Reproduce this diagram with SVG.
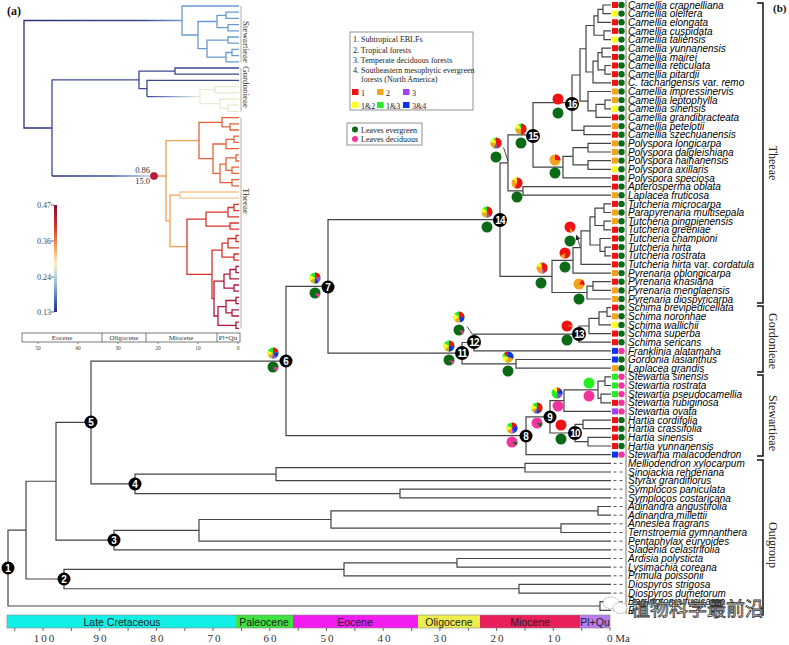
<svg xmlns="http://www.w3.org/2000/svg" xmlns:xlink="http://www.w3.org/1999/xlink" width="789" height="645" viewBox="0 0 789 645">
<defs>
<style>
.br{fill:none;stroke:#444;stroke-width:1.2}
.sp{font-family:"Liberation Sans",Arial,sans-serif;font-size:10px;font-style:italic;fill:#000}
.up{font-style:normal}
.fr{fill:#f01212}.fo{fill:#f7a21b}.fp{fill:#a040f0}.fy{fill:#ffff20}.fg{fill:#22ee22}.fb{fill:#1133ee}.fe{fill:#0b6a16}.fd{fill:#f0369e}
.kr{stroke:#f01212}.ko{stroke:#f7a21b}.kp{stroke:#a040f0}.ky{stroke:#ffff20}.kg{stroke:#22ee22}.kb{stroke:#1133ee}.kd{stroke:#f0369e}.ke{stroke:#0b6a16}
.nl circle{fill:#000}
.nl text{font-family:"Liberation Sans",Arial,sans-serif;font-size:10px;font-weight:bold;fill:#fff;text-anchor:middle}
.lg{font-family:"Liberation Serif","Times New Roman",serif;font-size:8px;fill:#222}
.cl{font-family:"Liberation Serif","Times New Roman",serif;font-size:12px;fill:#222;text-anchor:middle}
.ax{font-family:"Liberation Serif","Times New Roman",serif;font-size:11px;fill:#333;text-anchor:middle;letter-spacing:2px}
.ep{font-family:"Liberation Sans",Arial,sans-serif;font-size:10.5px;fill:#222;text-anchor:middle}
.sa{font-family:"Liberation Serif","Times New Roman",serif;font-size:7px;fill:#333;text-anchor:middle}
.cb{font-family:"Liberation Serif","Times New Roman",serif;font-size:8px;fill:#444;text-anchor:end}
.bk{fill:none;stroke:#111;stroke-width:1.5}
</style>
<path id="rg" d="M2.75 0A2.75 2.75 0 1 1 -2.75 0A2.75 2.75 0 1 1 2.75 0" fill="none" stroke-width="5.5"/>
<marker id="ah" markerWidth="6" markerHeight="6" refX="5" refY="3" orient="auto" markerUnits="userSpaceOnUse"><path d="M0 0.5L5 3L0 5.5z" fill="#222"/></marker>
<linearGradient id="cbar" x1="0" y1="0" x2="0" y2="1">
<stop offset="0" stop-color="#8a0c30"/><stop offset="0.2" stop-color="#cf3a2e"/><stop offset="0.38" stop-color="#f39a55"/><stop offset="0.55" stop-color="#f8f0c8"/><stop offset="0.72" stop-color="#9fc3de"/><stop offset="0.88" stop-color="#4a6fb0"/><stop offset="1" stop-color="#2a2a78"/>
</linearGradient>
<linearGradient id="stem" gradientUnits="userSpaceOnUse" x1="52" y1="0" x2="152" y2="0">
<stop offset="0" stop-color="#2b2f7c"/><stop offset="0.6" stop-color="#3d56a0"/><stop offset="1" stop-color="#bcd4e8"/>
</linearGradient>
<linearGradient id="gstem" gradientUnits="userSpaceOnUse" x1="147" y1="0" x2="200" y2="0">
<stop offset="0" stop-color="#3c4a8e"/><stop offset="0.5" stop-color="#8aa0c8"/><stop offset="1" stop-color="#e8eed2"/>
</linearGradient>
<linearGradient id="sstem" gradientUnits="userSpaceOnUse" x1="24" y1="0" x2="182" y2="0">
<stop offset="0" stop-color="#2b2f7c"/><stop offset="0.75" stop-color="#3a4a90"/><stop offset="1" stop-color="#6f9fd0"/>
</linearGradient>
</defs>
<rect width="789" height="645" fill="#fff"/>

<!-- ============ Panel (a) ============ -->
<g id="panel-a">
<text x="7" y="15" font-family="Liberation Serif,serif" font-size="12" font-weight="bold" fill="#111">(a)</text>
<g id="a-branches" fill="none" stroke-width="1.3">
<path stroke="url(#sstem)" d="M182 20.5H24V128H52"/>
<path stroke="#6a9bd0" d="M239 6H182V35H198M217 21.5H198V48.6H207M226 15.3H217V27.7H228M239 12.2H226V18.4H239M239 24.6H228V30.8H239M228 40.1H207V57.15H226M239 37H228V43.2H239M232 52.5H226V61.8H239M239 49.4H232V55.6H239"/>
<path stroke="#3c4a8e" d="M139 79.8H52V176M175 71.1H139V88.55H147M239 68H175V74.2H239M239 80.4H147V96.7"/>
<path stroke="url(#gstem)" d="M147 96.7H200"/>
<path stroke="#e6ecd0" d="M215 89.7H200V103.65H220M239 86.6H215V92.8H239M228 108.3H220V99H239M239 105.2H228V111.4H239"/>
<path stroke="url(#stem)" d="M52 176H152"/>
<path stroke="#f0a050" d="M154 176H166M199 140.6H166V220.9H170M180 195.1H170V246.7H187"/>
<path stroke="#f7c590" d="M239 192H180V198.2H239"/>
<path stroke="#e8603a" d="M222 122.4H199V158.7H213M239 117.6H222V126.9H230M239 123.8H230V130H239M226 144H213V173.4H220M234 139.3H226V148.6H239M239 136.2H234V142.4H239M226 164.1H220V182.7H232M236 157.9H226V170.3H232M239 154.8H236V161H239M239 167.2H232V173.4H239M239 179.6H232V185.8H239"/>
<path stroke="#d83228" d="M206 219.1H187V274.3H212M228 212.2H206V226.1H230M234 207.5H228V216.8H239M239 204.4H234V210.6H239M239 223H230V229.2H239M222 250.1H212V298.5H214M228 243.2H222V257.1H234M236 238.5H228V247.8H239M239 235.4H236V241.6H239M239 254H234V260.2H239"/>
<path stroke="#b0163a" d="M224 281.1H214V316H218M230 274.1H224V288.1H234M236 269.5H230V278.8H239M239 266.4H236V272.6H239M239 285H234V291.2H239M226 306.7H218V325.3H236M236 300.5H226V312.9H232M239 297.4H236V303.6H239M239 309.8H232V316H239M239 322.2H236V328.4H239"/>
</g>
<g id="a-clades" stroke="#999" stroke-width="0.8">
<path d="M241 6V62M241 68V111.5M241 117.5V328.5"/>
</g>
<g id="a-clade-labels" font-family="Liberation Serif,serif" font-size="9" fill="#333" text-anchor="middle">
<text transform="translate(243,42) rotate(90)">Stewartieae</text>
<text transform="translate(243,87) rotate(90)">Gordonieae</text>
<text transform="translate(243,201) rotate(90)">Theeae</text>
</g>
<g id="a-node">
<circle cx="154" cy="176" r="3.6" fill="#c8173a" stroke="#7a0a20" stroke-width="0.6"/>
<text x="150" y="173" font-family="Liberation Serif,serif" font-size="8.5" fill="#333" text-anchor="end">0.86</text>
<text x="150" y="184" font-family="Liberation Serif,serif" font-size="8.5" fill="#333" text-anchor="end">15.0</text>
</g>
<g id="colorbar">
<rect x="54" y="205" width="3" height="107" fill="url(#cbar)"/>
<path d="M51 205H54M51 241H54M51 277H54M51 312H54" stroke="#444" stroke-width="0.8"/>
<text class="cb" x="51" y="208">0.47</text>
<text class="cb" x="51" y="244">0.36</text>
<text class="cb" x="51" y="280">0.24</text>
<text class="cb" x="51" y="315">0.13</text>
</g>
<g id="a-axis">
<rect x="22" y="333" width="218" height="9" fill="#fff" stroke="#444" stroke-width="0.7"/>
<path d="M102 333V342M146 333V342M217 333V342" stroke="#444" stroke-width="0.7"/>
<text class="sa" x="62" y="340">Eocene</text>
<text class="sa" x="124" y="340">Oligocene</text>
<text class="sa" x="181" y="340">Miocene</text>
<text class="sa" x="228" y="340">Pl+Qu</text>
<path d="M38 342V344M78 342V344M118 342V344M158 342V344M198 342V344M238 342V344" stroke="#444" stroke-width="0.6"/>
<g font-family="Liberation Serif,serif" font-size="5.5" fill="#444" text-anchor="middle">
<text x="38" y="350">50</text><text x="78" y="350">40</text><text x="118" y="350">30</text><text x="158" y="350">20</text><text x="198" y="350">10</text><text x="238" y="350">0</text>
</g>
</g>
</g>

<!-- ============ Legends ============ -->
<g id="legend-biome">
<rect x="350" y="32" width="123" height="78" fill="#fff" stroke="#777" stroke-width="0.8"/>
<text class="lg" x="353" y="42">1. Subtropical EBLFs</text>
<text class="lg" x="353" y="53">2. Tropical forests</text>
<text class="lg" x="353" y="63">3. Temperate deciduous forests</text>
<text class="lg" x="353" y="73">4. Southeastern mesophytic evergreen</text>
<text class="lg" x="361" y="82">forests (North America)</text>
<rect class="fr" x="352" y="89" width="6.5" height="6"/><text class="lg" x="361" y="95.5">1</text>
<rect class="fo" x="377" y="89" width="6.5" height="6"/><text class="lg" x="386" y="95.5">2</text>
<rect class="fp" x="403" y="89" width="6.5" height="6"/><text class="lg" x="412" y="95.5">3</text>
<rect class="fy" x="352" y="102" width="6.5" height="6"/><text class="lg" x="361" y="108.5">1&amp;2</text>
<rect class="fg" x="377" y="102" width="6.5" height="6"/><text class="lg" x="386" y="108.5">1&amp;3</text>
<rect class="fb" x="403" y="102" width="6.5" height="6"/><text class="lg" x="412" y="108.5">3&amp;4</text>
</g>
<g id="legend-leaf">
<rect x="347" y="123" width="75" height="22" fill="#fff" stroke="#777" stroke-width="0.8"/>
<circle class="fe" cx="355" cy="129.5" r="3"/><text class="lg" x="361" y="132.5">Leaves evergreen</text>
<circle class="fd" cx="355" cy="139" r="3"/><text class="lg" x="361" y="142">Leaves deciduous</text>
</g>

<!-- ============ Panel (b) connectors ============ -->
<g id="connectors">
<path class="br" d="M611 5H603V13.6H611M603 9.3H598V22.3H611M611 30.9H604V39.6H611M598 15.8H594V35.25H604M611 48.2H602V56.9H611M611 65.5H605V74.2H611M602 52.55H598V69.85H605M598 61.2H593V82.8H611M594 25.5H586V72H593M611 100.1H605V108.8H611M605 104.45H596V117.4H611M611 91.5H588V110.9H596M586 48.75H580V101.2H588M611 126.1H584V134.7H611M580 75H572V130.4H584"/>
<path class="br" d="M611 143.4H588V152H611M611 160.6H588V169.3H611M588 147.7H573V164.95H588M573 156.3H563V177.9H611M572 102.7H533V167.1H563M611 186.6H523V195.2H611M533 134.9H508V190.9H523"/>
<path class="br" d="M611 203.9H604V212.5H611M611 221.2H604V229.8H611M604 208.2H595V225.5H604M611 247.1H605V255.8H611M611 238.5H600V251.45H605M595 216.85H590V245H600M590 230.9H581V264.4H611M581 247.65H573V273.1H611M611 281.7H593V290.4H611M593 286.05H587V299H611M573 260.4H552V292.5H587M508 162.9H500V276.45H552"/>
<path class="br" d="M611 307.6H607V316.3H611M607 311.95H599V324.9H611M599 318.4H589V333.6H611M589 326H579V342.2H611M579 334.1H474V350.9H611M611 359.5H516V368.2H611M474 342.5H462V363.85H516M500 219.7H328V353.2H462"/>
<path class="br" d="M611 376.8H605V385.5H611M611 394.1H601V402.8H611M605 381.15H598V398.45H601M598 389.8H564V411.4H611M611 420.1H583V428.7H611M611 437.3H588V446H611M583 424.4H575V441.65H588M564 400.6H550V433H575M550 416.8H526V454.6H611M328 286.45H286V435.7H526"/>
<path class="br" d="M611 463.3H525V472H611M525 467.65H276V480.6H611M611 489.2H400V497.9H611M276 474.1H135V493.55H400M286 361.1H91V483.8H135M611 506.5H598V515.2H611M611 523.8H561V532.5H611M598 510.85H331V528.15H561M331 519.5H199V541.1H611M199 530.3H114V549.8H611M91 422.45H56V540.05H114M611 558.5H457V567.1H611M457 562.8H344V575.8H611M611 584.4H519V593.1H611M344 569.3H64V588.75H519M56 481.25H26V579H64M611 601.7H600V610.4H611M26 530.1H8V606H600"/>
<path fill="none" stroke="#555" stroke-width="1" stroke-dasharray="3 3" d="M613.5 463.3H623M613.5 472H623M613.5 480.6H623M613.5 489.2H623M613.5 497.9H623M613.5 506.5H623M613.5 515.2H623M613.5 523.8H623M613.5 532.5H623M613.5 541.1H623M613.5 549.8H623M613.5 558.5H623M613.5 567.1H623M613.5 575.8H623M613.5 584.4H623M613.5 593.1H623M613.5 601.7H623M613.5 610.4H623"/>
<path fill="none" stroke="#222" stroke-width="0.8" marker-end="url(#ah)" d="M473 335L467 326.5M508 161L503.5 147.5M580 246.5L576.5 235"/>
<path d="M626 0V614" stroke="#555" stroke-width="0.8"/>
</g>

<!-- ============ Ancestral state pies ============ -->
<g id="pies">
<g id="pie-n6" transform="translate(273,353) rotate(-90)"><circle r="5.5" class="fg"/><use href="#rg" class="kr" stroke-dasharray="3.8 20"/><use href="#rg" class="kb" stroke-dasharray="3.11 20" stroke-dashoffset="-3.8"/><use href="#rg" class="kp" stroke-dasharray="2.07 20" stroke-dashoffset="-6.91"/><use href="#rg" class="ko" stroke-dasharray="2.42 20" stroke-dashoffset="-8.99"/><use href="#rg" class="ky" stroke-dasharray="2.42 20" stroke-dashoffset="-11.4"/></g>
<g id="leaf-n6" transform="translate(273,367) rotate(-90)"><circle r="5.5" class="fe"/><use href="#rg" class="kd" stroke-dasharray="2.59 20" stroke-dashoffset="-4.32"/></g>
<g id="pie-n7" transform="translate(315,278) rotate(-90)"><circle r="5.5" class="fg"/><use href="#rg" class="kr" stroke-dasharray="3.8 20"/><use href="#rg" class="kp" stroke-dasharray="2.59 20" stroke-dashoffset="-3.8"/><use href="#rg" class="kb" stroke-dasharray="2.25 20" stroke-dashoffset="-6.39"/><use href="#rg" class="ko" stroke-dasharray="2.59 20" stroke-dashoffset="-8.64"/><use href="#rg" class="ky" stroke-dasharray="2.94 20" stroke-dashoffset="-11.23"/></g>
<g id="leaf-n7" transform="translate(315,293) rotate(-90)"><circle r="5.5" class="fe"/><use href="#rg" class="kd" stroke-dasharray="2.07 20" stroke-dashoffset="-4.84"/></g>
<g id="pie-n11" transform="translate(449,346) rotate(-90)"><circle r="5.5" class="fg"/><use href="#rg" class="kr" stroke-dasharray="4.32 20"/><use href="#rg" class="kb" stroke-dasharray="4.32 20" stroke-dashoffset="-4.32"/><use href="#rg" class="ko" stroke-dasharray="2.07 20" stroke-dashoffset="-8.64"/><use href="#rg" class="ky" stroke-dasharray="3.46 20" stroke-dashoffset="-10.71"/></g>
<g id="leaf-n11" transform="translate(449,360) rotate(-90)"><circle r="5.5" class="fe"/><use href="#rg" class="kd" stroke-dasharray="1.73 20" stroke-dashoffset="-4.84"/></g>
<g id="pie-n12" transform="translate(459,317) rotate(-90)"><circle r="5.5" class="fg"/><use href="#rg" class="kr" stroke-dasharray="4.32 20"/><use href="#rg" class="kb" stroke-dasharray="3.46 20" stroke-dashoffset="-4.32"/><use href="#rg" class="ko" stroke-dasharray="3.11 20" stroke-dashoffset="-7.78"/><use href="#rg" class="ky" stroke-dasharray="3.46 20" stroke-dashoffset="-10.89"/></g>
<g id="leaf-n12" transform="translate(459,330) rotate(-90)"><circle r="5.5" class="fe"/><use href="#rg" class="kd" stroke-dasharray="1.73 20" stroke-dashoffset="-4.84"/></g>
<g id="pie-g1" transform="translate(508,357) rotate(-90)"><circle r="5.5" class="fg"/><use href="#rg" class="kb" stroke-dasharray="5.18 20"/><use href="#rg" class="ko" stroke-dasharray="4.32 20" stroke-dashoffset="-5.18"/><use href="#rg" class="ky" stroke-dasharray="3.46 20" stroke-dashoffset="-9.5"/><use href="#rg" class="kr" stroke-dasharray="2.59 20" stroke-dashoffset="-14.69"/></g>
<circle id="leaf-g1" cx="508" cy="371" r="5.5" class="fe"/>
<g id="pie-n13" transform="translate(567,326) rotate(-90)"><circle r="5.5" class="fr"/><use href="#rg" class="ko" stroke-dasharray="0.86 20" stroke-dashoffset="-3.8"/></g>
<circle id="leaf-n13" cx="567" cy="340" r="5.5" class="fe"/>
<g id="pie-n8" transform="translate(512,428) rotate(-90)"><circle r="5.5" class="fg"/><use href="#rg" class="kr" stroke-dasharray="3.11 20"/><use href="#rg" class="kb" stroke-dasharray="3.8 20" stroke-dashoffset="-3.11"/><use href="#rg" class="kp" stroke-dasharray="1.73 20" stroke-dashoffset="-6.91"/><use href="#rg" class="ko" stroke-dasharray="2.59 20" stroke-dashoffset="-8.64"/><use href="#rg" class="ky" stroke-dasharray="2.59 20" stroke-dashoffset="-11.23"/></g>
<g id="leaf-n8" transform="translate(512,442) rotate(-90)"><circle r="5.5" class="fd"/><use href="#rg" class="ke" stroke-dasharray="1.73 20" stroke-dashoffset="-4.32"/></g>
<g id="pie-n9" transform="translate(537,408) rotate(-90)"><circle r="5.5" class="fg"/><use href="#rg" class="kr" stroke-dasharray="6.91 20"/><use href="#rg" class="kb" stroke-dasharray="1.73 20" stroke-dashoffset="-6.91"/><use href="#rg" class="kp" stroke-dasharray="1.38 20" stroke-dashoffset="-8.64"/><use href="#rg" class="ko" stroke-dasharray="1.73 20" stroke-dashoffset="-10.02"/><use href="#rg" class="ky" stroke-dasharray="2.76 20" stroke-dashoffset="-11.75"/></g>
<g id="leaf-n9" transform="translate(537,423) rotate(-90)"><circle r="5.5" class="fd"/><use href="#rg" class="ke" stroke-dasharray="2.25 20" stroke-dashoffset="-4.32"/></g>
<g id="pie-w4" transform="translate(557,393) rotate(-90)"><circle r="5.5" class="fg"/><use href="#rg" class="kr" stroke-dasharray="2.07 20"/><use href="#rg" class="kb" stroke-dasharray="3.11 20" stroke-dashoffset="-2.07"/><use href="#rg" class="kp" stroke-dasharray="3.11 20" stroke-dashoffset="-5.18"/><use href="#rg" class="ky" stroke-dasharray="2.59 20" stroke-dashoffset="-14.69"/></g>
<circle id="leaf-w4" cx="558" cy="406" r="5.5" class="fd"/>
<circle id="pie-w3" cx="589" cy="383" r="5.5" class="fg"/>
<circle id="leaf-w3" cx="589" cy="396" r="5.5" class="fd"/>
<circle id="pie-n10" cx="561" cy="425" r="5.5" class="fr"/>
<circle id="leaf-n10" cx="561" cy="439" r="5.5" class="fe"/>
<g id="pie-n14" transform="translate(487,212) rotate(-90)"><circle r="5.5" class="fg"/><use href="#rg" class="kr" stroke-dasharray="6.91 20"/><use href="#rg" class="kp" stroke-dasharray="1.73 20" stroke-dashoffset="-6.91"/><use href="#rg" class="ko" stroke-dasharray="3.46 20" stroke-dashoffset="-8.64"/><use href="#rg" class="ky" stroke-dasharray="2.76 20" stroke-dashoffset="-12.1"/></g>
<circle id="leaf-n14" cx="487" cy="227" r="5.5" class="fe"/>
<g id="pie-x" transform="translate(496,143) rotate(-90)"><circle r="5.5" class="fg"/><use href="#rg" class="kr" stroke-dasharray="7.78 20"/><use href="#rg" class="kp" stroke-dasharray="1.73 20" stroke-dashoffset="-7.78"/><use href="#rg" class="ko" stroke-dasharray="3.46 20" stroke-dashoffset="-9.5"/><use href="#rg" class="ky" stroke-dasharray="2.59 20" stroke-dashoffset="-12.96"/></g>
<circle id="leaf-x" cx="496" cy="157" r="5.5" class="fe"/>
<g id="pie-n15" transform="translate(521,129) rotate(-90)"><circle r="5.5" class="fg"/><use href="#rg" class="kr" stroke-dasharray="8.64 20"/><use href="#rg" class="ko" stroke-dasharray="4.32 20" stroke-dashoffset="-8.64"/><use href="#rg" class="ky" stroke-dasharray="2.59 20" stroke-dashoffset="-12.96"/></g>
<circle id="leaf-n15" cx="521" cy="143" r="5.5" class="fe"/>
<circle id="pie-n16" cx="558" cy="99" r="5.5" class="fr"/>
<circle id="leaf-n16" cx="558" cy="113" r="5.5" class="fe"/>
<g id="pie-p4" transform="translate(555,160) rotate(-90)"><circle r="5.5" class="fo"/><use href="#rg" class="kr" stroke-dasharray="4.32 20"/></g>
<circle id="leaf-p4" cx="555" cy="173" r="5.5" class="fe"/>
<g id="pie-a1" transform="translate(517,183) rotate(-90)"><circle r="5.5" class="fo"/><use href="#rg" class="kr" stroke-dasharray="9.5 20"/><use href="#rg" class="ky" stroke-dasharray="1.73 20" stroke-dashoffset="-14.69"/></g>
<circle id="leaf-a1" cx="517" cy="197" r="5.5" class="fe"/>
<g id="pie-t9" transform="translate(542,268) rotate(-90)"><circle r="5.5" class="fo"/><use href="#rg" class="kr" stroke-dasharray="6.91 20"/><use href="#rg" class="kp" stroke-dasharray="1.38 20" stroke-dashoffset="-6.91"/><use href="#rg" class="ky" stroke-dasharray="2.07 20" stroke-dashoffset="-13.82"/><use href="#rg" class="kg" stroke-dasharray="0.86 20" stroke-dashoffset="-15.9"/></g>
<circle id="leaf-t9" cx="541" cy="283" r="5.5" class="fe"/>
<g id="pie-t8" transform="translate(565,253) rotate(-90)"><circle r="5.5" class="fr"/><use href="#rg" class="ko" stroke-dasharray="2.59 20" stroke-dashoffset="-8.64"/></g>
<circle id="leaf-t8" cx="565" cy="267" r="5.5" class="fe"/>
<g id="pie-t7" transform="translate(570,227) rotate(-90)"><circle r="5.5" class="fr"/><use href="#rg" class="ko" stroke-dasharray="1.38 20" stroke-dashoffset="-6.91"/></g>
<circle id="leaf-t7" cx="570" cy="241" r="5.5" class="fe"/>
<g id="pie-y2" transform="translate(579,284) rotate(-90)"><circle r="5.5" class="fo"/><use href="#rg" class="kr" stroke-dasharray="3.11 20" stroke-dashoffset="-1.73"/></g>
<circle id="leaf-y2" cx="579" cy="299" r="5.5" class="fe"/>
</g>

<!-- ============ Node numbers ============ -->
<g id="node-labels" class="nl">
<g id="n1"><circle cx="8" cy="568" r="6.5"/><text x="8" y="571.6">1</text></g>
<g id="n2"><circle cx="64" cy="579" r="6.5"/><text x="64" y="582.6">2</text></g>
<g id="n3"><circle cx="114" cy="540" r="6.5"/><text x="114" y="543.6">3</text></g>
<g id="n4"><circle cx="135" cy="484" r="6.5"/><text x="135" y="487.6">4</text></g>
<g id="n5"><circle cx="91" cy="422" r="6.5"/><text x="91" y="425.6">5</text></g>
<g id="n6"><circle cx="286" cy="361" r="6.5"/><text x="286" y="364.6">6</text></g>
<g id="n7"><circle cx="328" cy="287" r="6.5"/><text x="328" y="290.6">7</text></g>
<g id="n8"><circle cx="526" cy="436" r="6.5"/><text x="526" y="439.6">8</text></g>
<g id="n9"><circle cx="550" cy="417" r="6.5"/><text x="550" y="420.6">9</text></g>
<g id="n10"><circle cx="575" cy="433" r="7"/><text x="575" y="436.6" letter-spacing="-0.8">10</text></g>
<g id="n11"><circle cx="462" cy="353" r="7"/><text x="462" y="356.6" letter-spacing="-0.8">11</text></g>
<g id="n12"><circle cx="474" cy="342" r="7"/><text x="474" y="345.6" letter-spacing="-0.8">12</text></g>
<g id="n13"><circle cx="579" cy="334" r="7"/><text x="579" y="337.6" letter-spacing="-0.8">13</text></g>
<g id="n14"><circle cx="500" cy="220" r="7"/><text x="500" y="223.6" letter-spacing="-0.8">14</text></g>
<g id="n15"><circle cx="533" cy="136" r="7"/><text x="533" y="139.6" letter-spacing="-0.8">15</text></g>
<g id="n16"><circle cx="572" cy="104" r="7"/><text x="572" y="107.6" letter-spacing="-0.8">16</text></g>
</g>

<!-- ============ Tips ============ -->
<g id="tips">
<g id="t1"><rect class="fr" x="612" y="2" width="6" height="6"/><circle class="fe" cx="621.5" cy="5" r="3.2"/><text class="sp" x="628" y="8.6">Camellia crapnelliana</text></g>
<g id="t2"><rect class="fy" x="612" y="10.6" width="6" height="6"/><circle class="fe" cx="621.5" cy="13.6" r="3.2"/><text class="sp" x="628" y="17.2">Camellia oleifera</text></g>
<g id="t3"><rect class="fr" x="612" y="19.3" width="6" height="6"/><circle class="fe" cx="621.5" cy="22.3" r="3.2"/><text class="sp" x="628" y="25.9">Camellia elongata</text></g>
<g id="t4"><rect class="fr" x="612" y="27.9" width="6" height="6"/><circle class="fe" cx="621.5" cy="30.9" r="3.2"/><text class="sp" x="628" y="34.5">Camellia cuspidata</text></g>
<g id="t5"><rect class="fy" x="612" y="36.6" width="6" height="6"/><circle class="fe" cx="621.5" cy="39.6" r="3.2"/><text class="sp" x="628" y="43.2">Camellia taliensis</text></g>
<g id="t6"><rect class="fr" x="612" y="45.2" width="6" height="6"/><circle class="fe" cx="621.5" cy="48.2" r="3.2"/><text class="sp" x="628" y="51.8">Camellia yunnanensis</text></g>
<g id="t7"><rect class="fr" x="612" y="53.9" width="6" height="6"/><circle class="fe" cx="621.5" cy="56.9" r="3.2"/><text class="sp" x="628" y="60.5">Camellia mairei</text></g>
<g id="t8"><rect class="fr" x="612" y="62.5" width="6" height="6"/><circle class="fe" cx="621.5" cy="65.5" r="3.2"/><text class="sp" x="628" y="69.1">Camellia reticulata</text></g>
<g id="t9"><rect class="fr" x="612" y="71.2" width="6" height="6"/><circle class="fe" cx="621.5" cy="74.2" r="3.2"/><text class="sp" x="628" y="77.8">Camellia pitardii</text></g>
<g id="t10"><rect class="fr" x="612" y="79.8" width="6" height="6"/><circle class="fe" cx="621.5" cy="82.8" r="3.2"/><text class="sp" x="628" y="86.4">C. tachangensis <tspan class="up">var.</tspan> remo</text></g>
<g id="t11"><rect class="fo" x="612" y="88.5" width="6" height="6"/><circle class="fe" cx="621.5" cy="91.5" r="3.2"/><text class="sp" x="628" y="95.1">Camellia impressinervis</text></g>
<g id="t12"><rect class="fo" x="612" y="97.1" width="6" height="6"/><circle class="fe" cx="621.5" cy="100.1" r="3.2"/><text class="sp" x="628" y="103.7">Camellia leptophylla</text></g>
<g id="t13"><rect class="fy" x="612" y="105.8" width="6" height="6"/><circle class="fe" cx="621.5" cy="108.8" r="3.2"/><text class="sp" x="628" y="112.4">Camellia sinensis</text></g>
<g id="t14"><rect class="fr" x="612" y="114.4" width="6" height="6"/><circle class="fe" cx="621.5" cy="117.4" r="3.2"/><text class="sp" x="628" y="121">Camellia grandibracteata</text></g>
<g id="t15"><rect class="fo" x="612" y="123.1" width="6" height="6"/><circle class="fe" cx="621.5" cy="126.1" r="3.2"/><text class="sp" x="628" y="129.7">Camellia petelotii</text></g>
<g id="t16"><rect class="fr" x="612" y="131.7" width="6" height="6"/><circle class="fe" cx="621.5" cy="134.7" r="3.2"/><text class="sp" x="628" y="138.3">Camellia szechuanensis</text></g>
<g id="t17"><rect class="fo" x="612" y="140.4" width="6" height="6"/><circle class="fe" cx="621.5" cy="143.4" r="3.2"/><text class="sp" x="628" y="147">Polyspora longicarpa</text></g>
<g id="t18"><rect class="fo" x="612" y="149" width="6" height="6"/><circle class="fe" cx="621.5" cy="152" r="3.2"/><text class="sp" x="628" y="155.6">Polyspora dalgleishiana</text></g>
<g id="t19"><rect class="fo" x="612" y="157.6" width="6" height="6"/><circle class="fe" cx="621.5" cy="160.6" r="3.2"/><text class="sp" x="628" y="164.2">Polyspora hainanensis</text></g>
<g id="t20"><rect class="fy" x="612" y="166.3" width="6" height="6"/><circle class="fe" cx="621.5" cy="169.3" r="3.2"/><text class="sp" x="628" y="172.9">Polyspora axillaris</text></g>
<g id="t21"><rect class="fr" x="612" y="174.9" width="6" height="6"/><circle class="fe" cx="621.5" cy="177.9" r="3.2"/><text class="sp" x="628" y="181.5">Polyspora speciosa</text></g>
<g id="t22"><rect class="fr" x="612" y="183.6" width="6" height="6"/><circle class="fe" cx="621.5" cy="186.6" r="3.2"/><text class="sp" x="628" y="190.2">Apterosperma oblata</text></g>
<g id="t23"><rect class="fo" x="612" y="192.2" width="6" height="6"/><circle class="fe" cx="621.5" cy="195.2" r="3.2"/><text class="sp" x="628" y="198.8">Laplacea fruticosa</text></g>
<g id="t24"><rect class="fr" x="612" y="200.9" width="6" height="6"/><circle class="fe" cx="621.5" cy="203.9" r="3.2"/><text class="sp" x="628" y="207.5">Tutcheria microcarpa</text></g>
<g id="t25"><rect class="fo" x="612" y="209.5" width="6" height="6"/><circle class="fe" cx="621.5" cy="212.5" r="3.2"/><text class="sp" x="628" y="216.1">Parapyrenaria multisepala</text></g>
<g id="t26"><rect class="fo" x="612" y="218.2" width="6" height="6"/><circle class="fe" cx="621.5" cy="221.2" r="3.2"/><text class="sp" x="628" y="224.8">Tutcheria pingpienensis</text></g>
<g id="t27"><rect class="fr" x="612" y="226.8" width="6" height="6"/><circle class="fe" cx="621.5" cy="229.8" r="3.2"/><text class="sp" x="628" y="233.4">Tutcheria greeniae</text></g>
<g id="t28"><rect class="fr" x="612" y="235.5" width="6" height="6"/><circle class="fe" cx="621.5" cy="238.5" r="3.2"/><text class="sp" x="628" y="242.1">Tutcheria championi</text></g>
<g id="t29"><rect class="fr" x="612" y="244.1" width="6" height="6"/><circle class="fe" cx="621.5" cy="247.1" r="3.2"/><text class="sp" x="628" y="250.7">Tutcheria hirta</text></g>
<g id="t30"><rect class="fr" x="612" y="252.8" width="6" height="6"/><circle class="fe" cx="621.5" cy="255.8" r="3.2"/><text class="sp" x="628" y="259.4">Tutcheria rostrata</text></g>
<g id="t31"><rect class="fr" x="612" y="261.4" width="6" height="6"/><circle class="fe" cx="621.5" cy="264.4" r="3.2"/><text class="sp" x="628" y="268">Tutcheria hirta <tspan class="up">var.</tspan> cordatula</text></g>
<g id="t32"><rect class="fo" x="612" y="270.1" width="6" height="6"/><circle class="fe" cx="621.5" cy="273.1" r="3.2"/><text class="sp" x="628" y="276.7">Pyrenaria oblongicarpa</text></g>
<g id="t33"><rect class="fr" x="612" y="278.7" width="6" height="6"/><circle class="fe" cx="621.5" cy="281.7" r="3.2"/><text class="sp" x="628" y="285.3">Pyrenaria khasiana</text></g>
<g id="t34"><rect class="fo" x="612" y="287.4" width="6" height="6"/><circle class="fe" cx="621.5" cy="290.4" r="3.2"/><text class="sp" x="628" y="294">Pyrenaria menglaensis</text></g>
<g id="t35"><rect class="fo" x="612" y="296" width="6" height="6"/><circle class="fe" cx="621.5" cy="299" r="3.2"/><text class="sp" x="628" y="302.6">Pyrenaria diospyricarpa</text></g>
<g id="t36"><rect class="fr" x="612" y="304.6" width="6" height="6"/><circle class="fe" cx="621.5" cy="307.6" r="3.2"/><text class="sp" x="628" y="311.2">Schima brevipedicellata</text></g>
<g id="t37"><rect class="fo" x="612" y="313.3" width="6" height="6"/><circle class="fe" cx="621.5" cy="316.3" r="3.2"/><text class="sp" x="628" y="319.9">Schima noronhae</text></g>
<g id="t38"><rect class="fy" x="612" y="321.9" width="6" height="6"/><circle class="fe" cx="621.5" cy="324.9" r="3.2"/><text class="sp" x="628" y="328.5">Schima wallichii</text></g>
<g id="t39"><rect class="fr" x="612" y="330.6" width="6" height="6"/><circle class="fe" cx="621.5" cy="333.6" r="3.2"/><text class="sp" x="628" y="337.2">Schima superba</text></g>
<g id="t40"><rect class="fr" x="612" y="339.2" width="6" height="6"/><circle class="fe" cx="621.5" cy="342.2" r="3.2"/><text class="sp" x="628" y="345.8">Schima sericans</text></g>
<g id="t41"><rect class="fb" x="612" y="347.9" width="6" height="6"/><circle class="fd" cx="621.5" cy="350.9" r="3.2"/><text class="sp" x="628" y="354.5">Franklinia alatamaha</text></g>
<g id="t42"><rect class="fb" x="612" y="356.5" width="6" height="6"/><circle class="fe" cx="621.5" cy="359.5" r="3.2"/><text class="sp" x="628" y="363.1">Gordonia lasianthus</text></g>
<g id="t43"><rect class="fo" x="612" y="365.2" width="6" height="6"/><circle class="fe" cx="621.5" cy="368.2" r="3.2"/><text class="sp" x="628" y="371.8">Laplacea grandis</text></g>
<g id="t44"><rect class="fg" x="612" y="373.8" width="6" height="6"/><circle class="fd" cx="621.5" cy="376.8" r="3.2"/><text class="sp" x="628" y="380.4">Stewartia sinensis</text></g>
<g id="t45"><rect class="fg" x="612" y="382.5" width="6" height="6"/><circle class="fd" cx="621.5" cy="385.5" r="3.2"/><text class="sp" x="628" y="389.1">Stewartia rostrata</text></g>
<g id="t46"><rect class="fg" x="612" y="391.1" width="6" height="6"/><circle class="fd" cx="621.5" cy="394.1" r="3.2"/><text class="sp" x="628" y="397.7">Stewartia pseudocamellia</text></g>
<g id="t47"><rect class="fr" x="612" y="399.8" width="6" height="6"/><circle class="fd" cx="621.5" cy="402.8" r="3.2"/><text class="sp" x="628" y="406.4">Stewartia rubiginosa</text></g>
<g id="t48"><rect class="fp" x="612" y="408.4" width="6" height="6"/><circle class="fd" cx="621.5" cy="411.4" r="3.2"/><text class="sp" x="628" y="415">Stewartia ovata</text></g>
<g id="t49"><rect class="fr" x="612" y="417.1" width="6" height="6"/><circle class="fe" cx="621.5" cy="420.1" r="3.2"/><text class="sp" x="628" y="423.7">Hartia cordifolia</text></g>
<g id="t50"><rect class="fr" x="612" y="425.7" width="6" height="6"/><circle class="fe" cx="621.5" cy="428.7" r="3.2"/><text class="sp" x="628" y="432.3">Hartia crassifolia</text></g>
<g id="t51"><rect class="fr" x="612" y="434.3" width="6" height="6"/><circle class="fe" cx="621.5" cy="437.3" r="3.2"/><text class="sp" x="628" y="440.9">Hartia sinensis</text></g>
<g id="t52"><rect class="fr" x="612" y="443" width="6" height="6"/><circle class="fe" cx="621.5" cy="446" r="3.2"/><text class="sp" x="628" y="449.6">Hartia yunnanensis</text></g>
<g id="t53"><rect class="fb" x="612" y="451.6" width="6" height="6"/><circle class="fd" cx="621.5" cy="454.6" r="3.2"/><text class="sp" x="628" y="458.2">Stewartia malacodendron</text></g>
<g id="t54"><text class="sp" x="628" y="466.9">Melliodendron xylocarpum</text></g>
<g id="t55"><text class="sp" x="628" y="475.6">Sinojackia rehderiana</text></g>
<g id="t56"><text class="sp" x="628" y="484.2">Styrax grandiflorus</text></g>
<g id="t57"><text class="sp" x="628" y="492.8">Symplocos paniculata</text></g>
<g id="t58"><text class="sp" x="628" y="501.5">Symplocos costaricana</text></g>
<g id="t59"><text class="sp" x="628" y="510.1">Adinandra angustifolia</text></g>
<g id="t60"><text class="sp" x="628" y="518.8">Adinandra millettii</text></g>
<g id="t61"><text class="sp" x="628" y="527.4">Anneslea fragrans</text></g>
<g id="t62"><text class="sp" x="628" y="536.1">Ternstroemia gymnanthera</text></g>
<g id="t63"><text class="sp" x="628" y="544.7">Pentaphylax euryoides</text></g>
<g id="t64"><text class="sp" x="628" y="553.4">Sladenia celastrifolia</text></g>
<g id="t65"><text class="sp" x="628" y="562.1">Ardisia polysticta</text></g>
<g id="t66"><text class="sp" x="628" y="570.7">Lysimachia coreana</text></g>
<g id="t67"><text class="sp" x="628" y="579.4">Primula poissonii</text></g>
<g id="t68"><text class="sp" x="628" y="588">Diospyros strigosa</text></g>
<g id="t69"><text class="sp" x="628" y="596.7">Diospyros dumetorum</text></g>
<g id="t70"><text class="sp" x="628" y="605.3">Barringtonia fusicarpa</text></g>
<g id="t71"><text class="sp" x="628" y="614">E</text></g>
</g>

<!-- ============ Clade brackets ============ -->
<g id="clades">
<path class="bk" d="M757 3H763V303H757M757 306H763V372H757M757 375H763V456H757M757 460H763V615H757"/>
<text class="cl" transform="translate(769,163) rotate(90)">Theeae</text>
<text class="cl" transform="translate(769,341) rotate(90)">Gordonieae</text>
<text class="cl" transform="translate(769,423) rotate(90)">Stewartieae</text>
<text class="cl" transform="translate(769,545) rotate(90)">Outgroup</text>
<text x="773" y="12" font-family="Liberation Serif,serif" font-size="11" font-weight="bold" fill="#111">(b)</text>
</g>

<!-- ============ Watermark ============ -->
<g id="watermark">
<ellipse cx="611" cy="603" rx="8" ry="6" fill="#fff" stroke="#999" stroke-width="0.8" stroke-dasharray="2 1"/>
<ellipse cx="620" cy="608" rx="7" ry="5.5" fill="#fff" stroke="#999" stroke-width="0.8" stroke-dasharray="2 1"/>
<text x="631" y="616" font-family="Noto Sans CJK SC,sans-serif" font-size="19" fill="#fff" stroke="#333" stroke-width="0.8">植物科学最前沿</text>
</g>

<!-- ============ Time axis ============ -->
<g id="timescale">
<rect x="7" y="615" width="229" height="13" fill="#12efe6"/>
<rect x="236" y="615" width="57" height="13" fill="#3fe23f"/>
<rect x="293" y="615" width="125" height="13" fill="#f21cf0"/>
<rect x="418" y="615" width="62" height="13" fill="#ecee4a"/>
<rect x="480" y="615" width="100" height="13" fill="#e91f5c"/>
<rect x="580" y="615" width="30" height="13" fill="#b97cf0"/>
<rect x="7" y="615" width="603" height="13" fill="none" stroke="#888" stroke-width="0.6"/>
<text class="ep" x="122" y="625.5">Late Cretaceous</text>
<text class="ep" x="264" y="625.5">Paleocene</text>
<text class="ep" x="355" y="625.5">Eocene</text>
<text class="ep" x="449" y="625.5">Oligocene</text>
<text class="ep" x="530" y="625.5">Miocene</text>
<text class="ep" x="595" y="625.5">Pl+Qu</text>
<path d="M610 628V631M581.7 628V631M553.3 628V631M525 628V631M496.6 628V631M468.3 628V631M439.9 628V631M411.6 628V631M383.2 628V631M354.9 628V631M326.5 628V631M298.2 628V631M269.8 628V631M241.5 628V631M213.1 628V631M184.8 628V631M156.4 628V631M128.1 628V631M99.7 628V631M71.4 628V631M43 628V631M14.7 628V631" stroke="#444" stroke-width="0.8"/>
<text class="ax" x="45" y="642">100</text>
<text class="ax" x="101" y="642">90</text>
<text class="ax" x="158" y="642">80</text>
<text class="ax" x="215" y="642">70</text>
<text class="ax" x="271" y="642">60</text>
<text class="ax" x="328" y="642">50</text>
<text class="ax" x="385" y="642">40</text>
<text class="ax" x="441" y="642">30</text>
<text class="ax" x="498" y="642">20</text>
<text class="ax" x="555" y="642">10</text>
<text x="607" y="642" font-family="Liberation Serif,serif" font-size="11" fill="#333">0 Ma</text>
</g>
</svg>
